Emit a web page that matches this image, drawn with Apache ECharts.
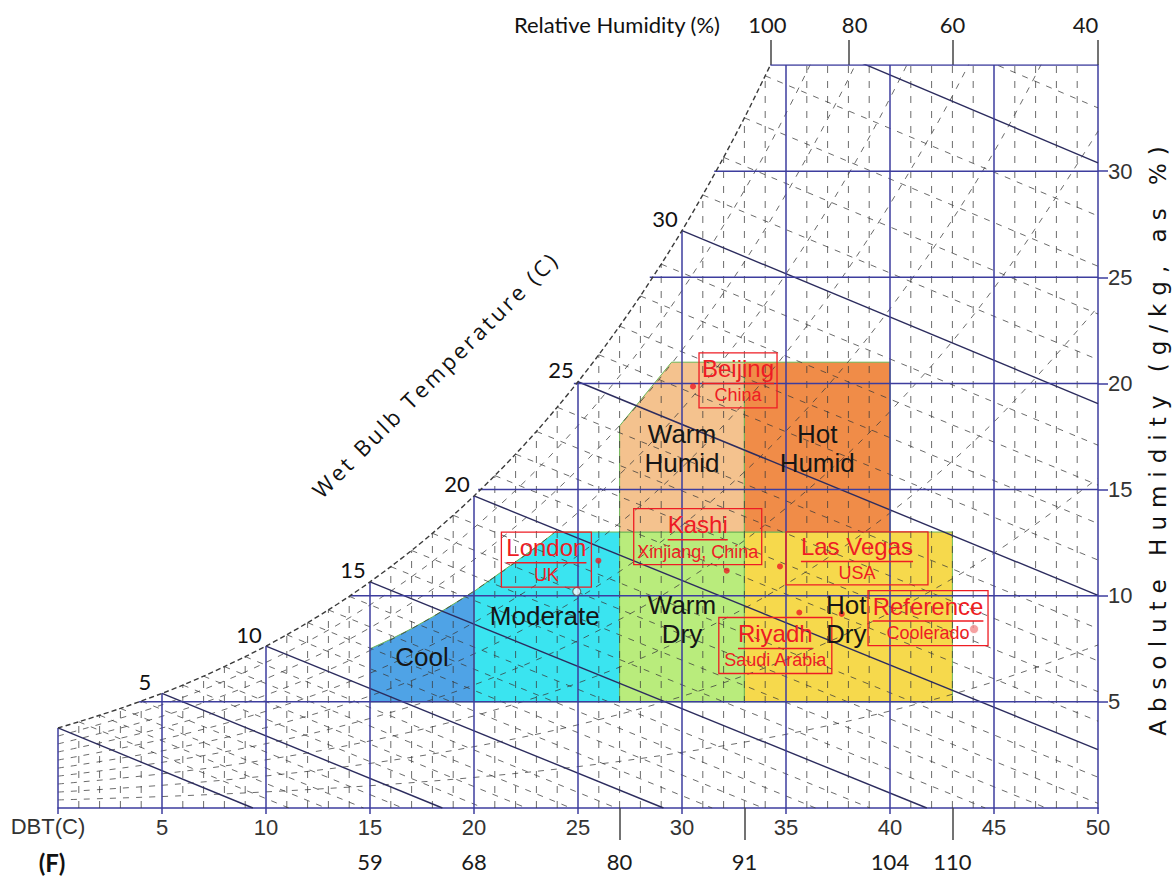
<!DOCTYPE html>
<html><head><meta charset="utf-8">
<script src="https://cdn.jsdelivr.net/npm/echarts@6/dist/echarts.min.js"></script>
<style>html,body{margin:0;padding:0;background:#fff}#c{width:1175px;height:882px}</style>
</head><body><div id="c"></div><script>
// ---------------- DATA ----------------
const dbtTicks = [5,10,15,20,25,30,35,40,45,50];
const ahTicks = [5,10,15,20,25,30];
const fLabels = [59,68,80,91,104,110];
const fPos = [15,20,27,33,40,43];
const fLongTicks = [27,33,43];
const rhLabels = [100,80,60,40];
const rhLabelPos = [34.1,38.3,43.0,49.4];
const rhTickPos = [34.25,38.0,43.0,50.0];

// saturation (100% RH) curve, DBT (C) vs g/kg
const satCurve = [[0,3.77],[1,4.06],[2,4.37],[3,4.69],[4,5.04],[5,5.40],[6,5.79],[7,6.21],[8,6.66],[9,7.13],
 [10,7.63],[11,8.16],[12,8.73],[13,9.33],[14,9.97],[15,10.65],[16,11.37],[17,12.13],[18,12.94],[19,13.79],
 [20,14.70],[21,15.66],[22,16.67],[23,17.74],[24,18.88],[25,20.08],[26,21.35],[27,22.70],[28,24.12],[29,25.62],
 [30,27.20],[31,28.88],[32,30.65],[33,32.51],[34,34.49],[34.25,35.0]];
const satAbove = [[35,36.6],[36,38.8]];

// relative humidity curves 10..90 %, sampled at rhT
const rhT = [0,5,10,15,20,25,30,35,40,45,50];
const rh10 = [0.38,0.54,0.76,1.05,1.44,1.95,2.62,3.47,4.57,5.95,7.68];
const rh20 = [0.75,1.07,1.51,2.10,2.89,3.92,5.26,6.99,9.20,12.01,15.54];
const rh30 = [1.13,1.61,2.27,3.16,4.34,5.89,7.92,10.54,13.90,18.19,23.61];
const rh40 = [1.50,2.15,3.03,4.22,5.80,7.88,10.60,14.13,18.68,24.49,31.88];
const rh50 = [1.88,2.69,3.79,5.28,7.26,9.88,13.31,17.76,23.52,30.91,40.37];
const rh60 = [2.26,3.23,4.56,6.35,8.74,11.90,16.04,21.44,28.45,37.47,49.5];
const rh70 = [2.64,3.77,5.32,7.42,10.22,13.92,18.80,25.16,33.44,44.16,58.4];
const rh80 = [3.02,4.32,6.09,8.49,11.70,15.96,21.57,28.92,38.51,51.0,67.6];
const rh90 = [3.39,4.86,6.86,9.57,13.20,18.02,24.38,32.72,43.66,58.0,77.0];
const rhCurves = [rh10,rh20,rh30,rh40,rh50,rh60,rh70,rh80,rh90];

// wet bulb lines: wb value -> end point (start is on the saturation curve)
const wbValues = [0,1,2,3,4,5,6,7,8,9,10,11,12,13,14,15,16,17,18,19,20,21,22,23,24,25,26,27,28,29,30,31,32,33,34,35,36];
const wbEnd = [[9.37,0],[11.10,0],[12.88,0],[14.69,0],[16.57,0],[18.48,0],[20.46,0],[22.52,0],[24.66,0],[26.84,0],
 [29.11,0],[31.45,0],[33.90,0],[36.42,0],[39.04,0],[41.77,0],[44.58,0],[47.51,0],[50,0.22],[50,1.45],
 [50,2.75],[50,4.09],[50,5.48],[50,6.93],[50,8.45],[50,10.02],[50,11.68],[50,13.40],[50,15.21],[50,17.09],
 [50,19.05],[50,21.12],[50,23.27],[50,25.52],[50,27.89],[50,30.39],[50,32.98]];
const wbLabelValues = [5,10,15,20,25,30];

// solid horizontal lines (g/kg) and where they leave the saturation curve (C)
const solidH = [5,10,15,20,25,30,35];
const solidHStart = [3.9,14.05,20.2,24.8,28.45,31.55,34.25];

// comfort zones (DBT C, g/kg)
const zoneNames = ['Cool','Moderate','Warm Dry','Hot Dry','Warm Humid','Hot Humid'];
const zoneCool = [[15,5],[20,5],[20,10.2],[19,9.6],[18,9.0],[17,8.45],[16,7.95],[15,7.5]];
const zoneModerate = [[20,5],[27,5],[27,13],[23.9,13],[23,12.3],[22,11.6],[21,10.9],[20,10.2]];
const zoneWarmDry = [[27,5],[33,5],[33,13],[27,13]];
const zoneHotDry = [[33,5],[43,5],[43,13],[33,13]];
const zoneWarmHumid = [[27,13],[33,13],[33,21],[29.5,21],[29,20.4],[28,19.2],[27,18.0]];
const zoneHotHumid = [[33,13],[40,13],[40,21],[33,21]];
const zonePolys = [zoneCool,zoneModerate,zoneWarmDry,zoneHotDry,zoneWarmHumid,zoneHotHumid];
const zoneLabels = ['Cool','Moderate','Warm\nDry','Hot\nDry','Warm\nHumid','Hot\nHumid'];
const zoneLabelAt = [[17.5,7.12],[23.4,9.05],[30.0,8.86],[37.9,8.86],[30.0,16.94],[36.5,16.94]];

// cities
const cityNames = ['London','Kashi','Las Vegas','Riyadh','Reference','Beijing'];
const cityCountries = ['UK','Xinjiang, China','USA','Saudi Arabia','Coolerado','China'];
const cityT = [25.98,32.15,34.71,35.64,44.04,30.53];
const cityW = [11.65,11.18,11.38,9.21,8.43,19.86];
const extraDotT = [37.68];
const extraDotW = [9.14];
const openDotT = [24.94];
const openDotW = [10.20];

// ---------------- STYLE / LAYOUT ----------------
const BLUE = '#3d3d9e', DASH = '#3a3a3a', RED = '#ee1c24';
const zoneStyle = {
  'Cool':'#4fa3e6','Moderate':'#3ae4f0','Warm Dry':'#b9ec7c',
  'Hot Dry':'#f6d94c','Warm Humid':'#f4c28e','Hot Humid':'#f08c48'
};
// label box: offset of box centre from the dot (px), box width, height
const cityLayout = {
  'London':[-52,-1,90,55], 'Kashi':[-29,-34,128,56], 'Las Vegas':[77,-8,142,53],
  'Riyadh':[-24,33,113,56], 'Reference':[-46,-11,120,55], 'Beijing':[45,-6,78,55]
};
const NAME_FONT = '24px "Liberation Sans", Arial, sans-serif';
const CTRY_FONT = '18px "Liberation Sans", Arial, sans-serif';
const mctx = document.createElement('canvas').getContext('2d');
function tw(t, f){ mctx.font = f; return mctx.measureText(t).width; }

// ---------------- SERIES ----------------
const series = [];
function addLine(data, ls, z, smooth){
  series.push({type:'line', data, symbol:'none', showSymbol:false, smooth: smooth||false,
    clip:true, silent:true, z, lineStyle: ls, emphasis:{disabled:true}, animation:false});
}
// zones
series.push({type:'custom', coordinateSystem:'cartesian2d', z:1, silent:true, animation:false,
  data: zoneNames.map((n,i)=>[zonePolys[i][0][0], zonePolys[i][0][1]]),
  renderItem:(p, api)=>{
    const name = zoneNames[p.dataIndex];
    return {type:'polygon', shape:{points: zonePolys[p.dataIndex].map(q=>api.coord(q))},
      style:{fill: zoneStyle[name], stroke:'#6cb455', lineWidth:1}};
  }});
// dashed verticals every 1 C
for (let t=1; t<50; t++){
  if (t%5===0) continue;
  const top = t<=34 ? satCurve[t][1] : 35;
  addLine([[t,0],[t,top]], {color:DASH, width:1, type:[7,8], opacity:0.75}, 2);
}
// RH curves
rhCurves.forEach(c=> addLine(rhT.map((t,i)=>[t,c[i]]), {color:DASH, width:1, type:[6,7], opacity:0.75}, 2, 0.35));
// wet bulb lines
wbValues.forEach((wb,i)=>{
  const start = wb<=34 ? satCurve[wb] : satAbove[wb-35];
  if (wb%5===0) addLine([start, wbEnd[i]], {color:'#2c2c5e', width:1.4, type:'solid'}, 3);
  else addLine([start, wbEnd[i]], {color:DASH, width:1, type:[6,7], opacity:0.75}, 2);
});
// solid verticals every 5 C
for (let t=0; t<50; t+=5){
  const top = t<=34 ? satCurve[t][1] : 35;
  addLine([[t,0],[t,top]], {color:BLUE, width:1.5}, 3);
}
// solid horizontals
solidH.forEach((w,i)=> addLine([[solidHStart[i],w],[50,w]], {color:BLUE, width:1.5}, 3));
// saturation curve
addLine(satCurve, {color:'#3a3a3a', width:1.4, type:[5,3]}, 3, 0.3);

// dots
series.push({type:'scatter', data: cityNames.map((n,i)=>[cityT[i],cityW[i]]).filter((d,i)=>cityNames[i]!=='Reference').concat(extraDotT.map((t,i)=>[t,extraDotW[i]])),
  symbolSize:6, itemStyle:{color:RED}, z:5, silent:true, animation:false});
series.push({type:'scatter', data: [[cityT[4],cityW[4]]], symbolSize:9,
  itemStyle:{color:'#f28a8a', borderColor:'#fff', borderWidth:1}, z:5, silent:true, animation:false});
series.push({type:'scatter', data: openDotT.map((t,i)=>[t,openDotW[i]]), symbolSize:8,
  itemStyle:{color:'#fff', borderColor:'#555', borderWidth:1.2}, z:5, silent:true, animation:false});

// city labels
series.push({type:'custom', coordinateSystem:'cartesian2d', z:6, silent:true, animation:false,
  data: cityNames.map((n,i)=>[cityT[i],cityW[i]]),
  renderItem:(p, api)=>{
    const i = p.dataIndex, name = cityNames[i], ctry = cityCountries[i];
    const pt = api.coord([api.value(0), api.value(1)]);
    const L = cityLayout[name];
    const cx = pt[0]+L[0], cy = pt[1]+L[1];
    const nw = tw(name, NAME_FONT);
    return {type:'group', children:[
      {type:'rect', shape:{x:cx-L[2]/2, y:cy-L[3]/2, width:L[2], height:L[3]}, style:{fill:'none', stroke:RED, lineWidth:1.3}},
      {type:'text', style:{text:name, x:cx, y:cy-12, fill:RED, font:NAME_FONT, align:'center', verticalAlign:'middle', textAlign:'center', textVerticalAlign:'middle'}},
      {type:'line', shape:{x1:cx-nw/2, y1:cy+3, x2:cx+nw/2, y2:cy+3}, style:{stroke:RED, lineWidth:1.5}},
      {type:'text', style:{text:ctry, x:cx, y:cy+15, fill:RED, font:CTRY_FONT, align:'center', verticalAlign:'middle', textAlign:'center', textVerticalAlign:'middle'}}
    ]};
  }});
// zone labels
series.push({type:'custom', coordinateSystem:'cartesian2d', z:6, silent:true, animation:false,
  data: zoneLabelAt,
  renderItem:(p, api)=>{
    const pt = api.coord([api.value(0), api.value(1)]);
    return {type:'text', style:{text: zoneLabels[p.dataIndex], x:pt[0], y:pt[1], fill:'#161616',
      font:'26px "Liberation Sans", Arial, sans-serif', lineHeight:29,
      align:'center', verticalAlign:'middle', textAlign:'center', textVerticalAlign:'middle'}};
  }});
// wet bulb numbers at the saturation curve
series.push({type:'custom', coordinateSystem:'cartesian2d', z:6, silent:true, animation:false,
  data: wbLabelValues.map(v=>satCurve[v]),
  renderItem:(p, api)=>{
    const pt = api.coord([api.value(0), api.value(1)]);
    return {type:'text', style:{text: String(wbLabelValues[p.dataIndex]), x:pt[0]-17, y:pt[1]-12, fill:'#111',
      font:'22px Lato, "Open Sans", sans-serif', align:'center', verticalAlign:'middle', textAlign:'center', textVerticalAlign:'middle'}};
  }});

const axisFont = {fontFamily:'"Liberation Sans", Arial, sans-serif', fontSize:22, color:'#333'};
const option = {
  animation:false,
  grid:{left:58, right:77, top:65, bottom:74, containLabel:false},
  xAxis:[
    {type:'value', min:0, max:50, interval:5, position:'bottom',
     axisLine:{show:true, onZero:false, lineStyle:{color:BLUE, width:1.5}},
     axisTick:{show:true, length:6, lineStyle:{color:BLUE, width:1.5}},
     axisLabel:Object.assign({margin:8, formatter:v=> v===0 ? '' : String(v)}, axisFont),
     splitLine:{show:false}},
    {type:'value', min:0, max:50, position:'bottom',
     axisLine:{show:false, onZero:false},
     axisTick:{show:true, customValues:fLongTicks, length:32, lineStyle:{color:'#444', width:1.5}},
     axisLabel:{customValues:fPos, margin:42, formatter:v=> String(fLabels[fPos.indexOf(v)]),
       fontFamily:'Lato, "Open Sans", sans-serif', fontSize:22, color:'#1a1a1a'},
     splitLine:{show:false}},
    {type:'value', min:0, max:50, position:'top',
     axisLine:{show:false, onZero:false},
     axisTick:{show:true, customValues:rhTickPos, length:25, lineStyle:{color:'#444', width:1.5}},
     axisLabel:{customValues:rhLabelPos, margin:30, formatter:v=> String(rhLabels[rhLabelPos.indexOf(v)]),
       fontFamily:'Lato, "Open Sans", sans-serif', fontSize:22, color:'#1a1a1a'},
     splitLine:{show:false}}
  ],
  yAxis:{type:'value', min:0, max:35, interval:5, position:'right',
    axisLine:{show:true, onZero:false, lineStyle:{color:BLUE, width:1.5}},
    axisTick:{show:true, customValues:ahTicks, length:10, lineStyle:{color:BLUE, width:1.5}},
    axisLabel:Object.assign({customValues:ahTicks, margin:10}, axisFont),
    splitLine:{show:false}},
  graphic:[
    {type:'text', x:720, y:24, style:{text:'Relative Humidity (%)', fill:'#111', font:'22px Lato, "Open Sans", sans-serif',
      align:'right', verticalAlign:'middle', textAlign:'right', textVerticalAlign:'middle'}},
    {type:'text', x:435, y:374, rotation:Math.PI/4, style:{text:'Wet Bulb Temperature (C)', fill:'#111',
      font:'22px "Open Sans", Lato, sans-serif', align:'center', verticalAlign:'middle', textAlign:'center', textVerticalAlign:'middle'}},
    {type:'text', x:1158, y:437, rotation:Math.PI/2, style:{text:'Absolute Humidity (g/kg, as %)', fill:'#111',
      font:'23px "DejaVu Sans", sans-serif', align:'center', verticalAlign:'middle', textAlign:'center', textVerticalAlign:'middle'}},
    {type:'text', x:48, y:826, style:{text:'DBT(C)', fill:'#333', font:'22px "Liberation Sans", Arial, sans-serif',
      align:'center', verticalAlign:'middle', textAlign:'center', textVerticalAlign:'middle'}},
    {type:'text', x:52, y:862, style:{text:'(F)', fill:'#111', font:'bold 24px Lato, "Open Sans", sans-serif',
      align:'center', verticalAlign:'middle', textAlign:'center', textVerticalAlign:'middle'}}
  ],
  series
};
const chart = echarts.init(document.getElementById('c'), null, {renderer:'svg', width:1175, height:882});
chart.setOption(option);
function applySpacing(){
  document.querySelectorAll('#c text').forEach(t=>{
    const s = t.textContent;
    if (s === 'Absolute Humidity (g/kg, as %)') t.style.letterSpacing = '8px';
    else if (s === 'Wet Bulb Temperature (C)') t.style.letterSpacing = '3px';
  });
}
chart.on('finished', applySpacing);
applySpacing(); setTimeout(applySpacing, 30); setTimeout(applySpacing, 200);
</script></body></html>
